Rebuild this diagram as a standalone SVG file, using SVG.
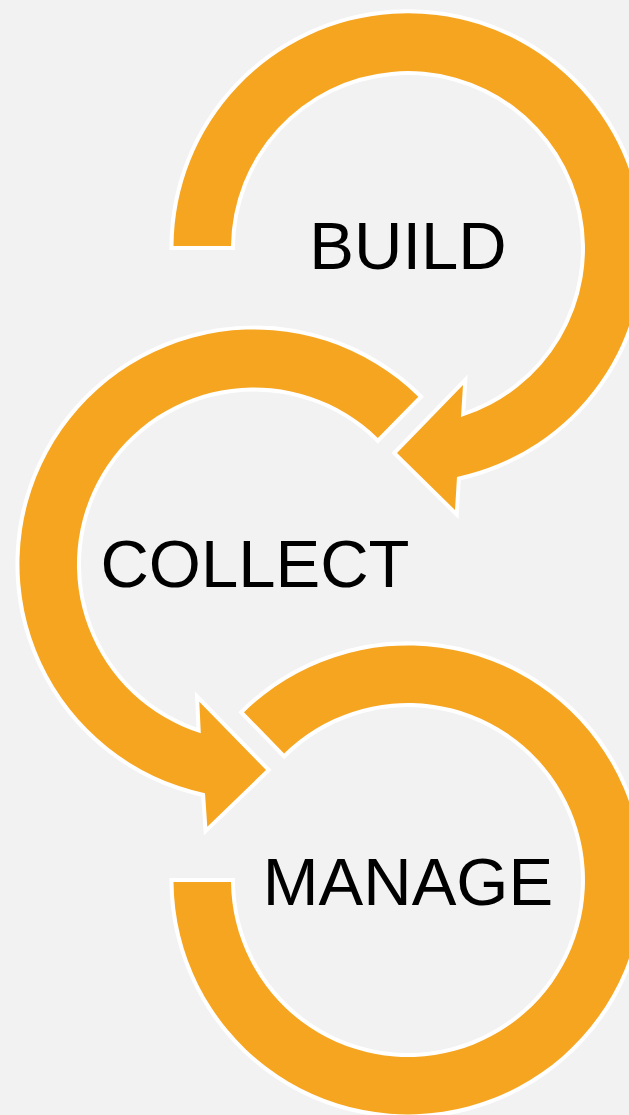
<svg xmlns="http://www.w3.org/2000/svg" width="629" height="1115" viewBox="0 0 629 1115">
  <style>
    .arrow { fill: #F6A520; stroke: #FFFFFF; stroke-width: 8; stroke-linejoin: miter; stroke-miterlimit: 10; paint-order: stroke; }
    .label { font-family: "Liberation Sans", Arial, sans-serif; font-size: 67px; fill: #000000; text-anchor: middle; }
  </style>
  <rect x="0" y="0" width="629" height="1115" fill="#F2F2F2"/>
  <g id="node-manage">
    <path class="arrow" d="M 244,712.3 A 234.5 234.5 0 1 1 173.5,882 L 231,882 A 177 177 0 1 0 284.1,753.6 Z"/>
    <text class="label" x="408" y="905">MANAGE</text>
  </g>
  <g id="node-collect">
    <path class="arrow" d="M 418.3,396.7 A 234.5 234.5 0 1 0 205,793.3 L 207.3,826.7 L 266,770 L 199.3,701.7 L 200.8,733.3 A 177 177 0 1 1 377.8,438 Z"/>
    <text class="label" x="255" y="587">COLLECT</text>
  </g>
  <g id="node-build">
    <path class="arrow" d="M 231,246 A 177 177 0 1 1 461,417 L 463,385 L 397,453 L 455,510 L 457,477 A 234.5 234.5 0 1 0 173.5,246 Z"/>
    <text class="label" x="408" y="269">BUILD</text>
  </g>
</svg>
